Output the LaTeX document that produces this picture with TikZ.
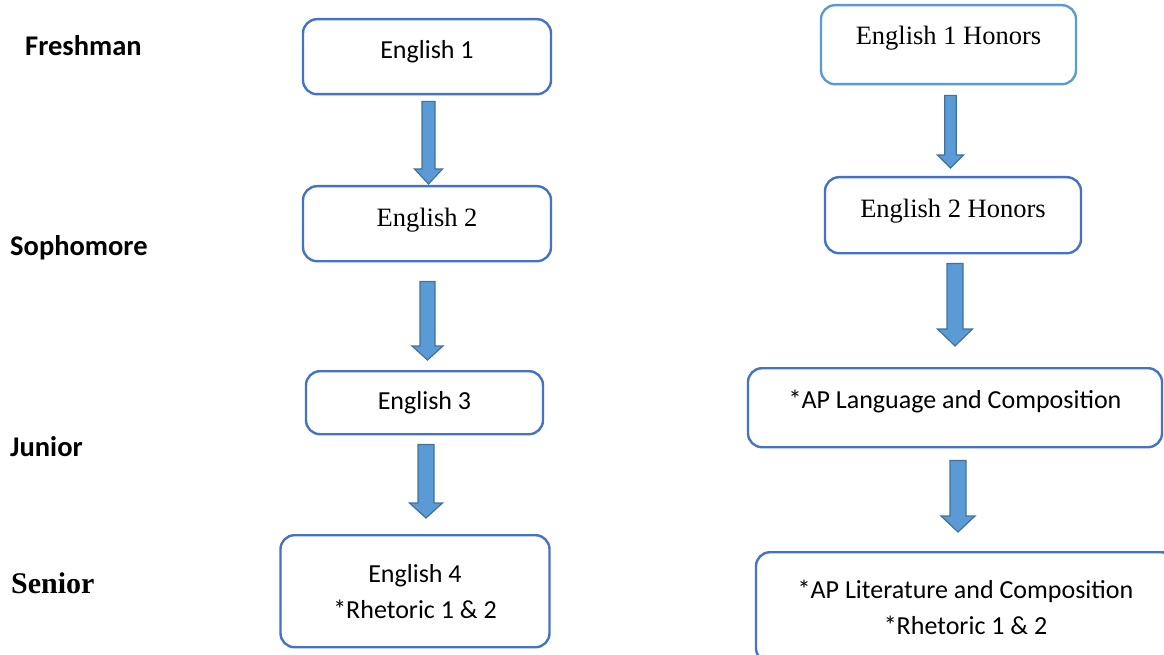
\documentclass[tikz,border=0pt]{standalone}
\usepackage{fontspec}
\setmainfont{Liberation Serif}
\newfontfamily\calibri{Carlito}
\usetikzlibrary{calc}

\definecolor{boxline}{HTML}{4472C4}
\definecolor{honline}{HTML}{5B9BD5}
\definecolor{arrowfill}{HTML}{5B9BD5}
\definecolor{arrowline}{HTML}{41719C}

% block arrow pointing down: start, tip, half shaft, half head, head length
\newcommand{\flowarrow}[5]{%
  \draw[blockarrow] let \p1=#1, \p2=#2 in
    (\x1-#3,\y1) -- (\x1+#3,\y1) -- (\x1+#3,\y2+#5) -- (\x1+#4,\y2+#5)
    -- (\x1,\y2) -- (\x1-#4,\y2+#5) -- (\x1-#3,\y2+#5) -- cycle;}

\begin{document}
\begin{tikzpicture}[x=1pt,y=-1pt,
    course/.style={draw=boxline,line width=2.4pt,rounded corners=14pt,fill=white,
        inner sep=0pt,anchor=north,font=\calibri\fontsize{26}{36}\selectfont},
    serif/.style={font=\fontsize{26.5}{36}\selectfont},
    year/.style={anchor=base west,inner sep=0pt,font=\calibri\bfseries\fontsize{28.5}{34}\selectfont},
    blockarrow/.style={draw=arrowline,fill=arrowfill,line width=1.2pt,line join=miter}]
    \useasboundingbox (0,0) rectangle (1164,655);
    \clip (0,0) rectangle (1164,655);

    \node[year] (freshman) at (25,56) {Freshman};
    \node[year] (sophomore) at (10,255) {Sophomore};
    \node[year] (junior) at (10,456) {Junior};
    \node[year,font=\bfseries\fontsize{30}{34}\selectfont] (senior) at (11,593) {Senior};

    \node[course,minimum width=248pt,text height=39pt,text depth=36pt] (eng1) at (427,18) {English 1};
    \node[course,serif,minimum width=248pt,text height=40pt,text depth=35pt] (eng2) at (427,185) {English 2};
    \node[course,minimum width=237pt,text height=38pt,text depth=25pt] (eng3) at (424.5,370) {English 3};
    \node[course,align=center,minimum width=269pt,minimum height=112pt] (eng4) at (415,534) {English 4\\*Rhetoric 1 \& 2};

    \node[course,serif,draw=honline,minimum width=255pt,text height=39pt,text depth=40pt] (hon1) at (948.5,4) {English 1 Honors};
    \node[course,serif,minimum width=256pt,text height=40pt,text depth=36pt] (hon2) at (953,176) {English 2 Honors};
    \node[course,minimum width=414pt,text height=40pt,text depth=39pt] (aplang) at (955,367) {*AP Language and Composition};
    \node[course,align=center,minimum width=419pt,minimum height=110pt] (aplit) at (965.5,551) {*AP Literature and Composition\\*Rhetoric 1 \& 2};

    \flowarrow{($(eng1.south)+(1.5,6)$)}{($(eng2.north)+(1.5,-1)$)}{6.5pt}{14pt}{15pt}
    \flowarrow{($(eng2.south)+(0.5,19)$)}{($(eng3.north)+(3,-10)$)}{7.5pt}{15.5pt}{14pt}
    \flowarrow{($(eng3.south)+(1.5,9)$)}{($(eng4.north)+(11,-16)$)}{8pt}{16.5pt}{15pt}
    \flowarrow{($(hon1.south)+(2,10)$)}{($(hon2.north)+(0,-8)$)}{5.7pt}{13pt}{13pt}
    \flowarrow{($(hon2.south)+(2,9)$)}{($(aplang.north)+(0,-21)$)}{8pt}{17.5pt}{17pt}
    \flowarrow{($(aplang.south)+(3,12)$)}{($(aplit.north)+(0,-19)$)}{8pt}{17pt}{16pt}
\end{tikzpicture}
\end{document}
